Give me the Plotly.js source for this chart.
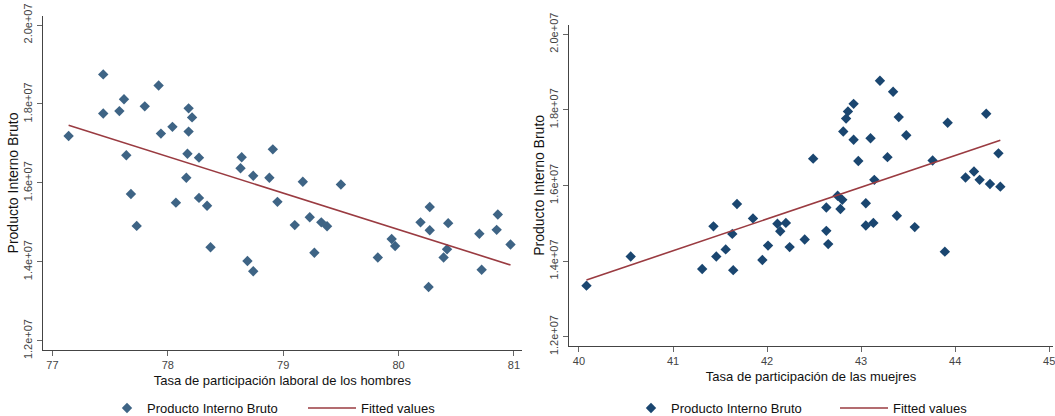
<!DOCTYPE html>
<html>
<head>
<meta charset="utf-8">
<script src="https://cdn.plot.ly/plotly-3.0.1.min.js"></script>
<style>html,body{margin:0;padding:0;background:#fff;}#chart{width:1055px;height:416px;}</style>
</head>
<body>
<div id="chart"></div>
<script>
// Left panel: men's labour participation rate vs GDP
const menRate = [77.14,77.44,77.44,77.62,77.58,77.80,77.92,77.94,78.04,78.18,78.21,78.18,78.17,78.27,77.64,77.68,77.73,78.16,78.07,78.27,78.34,78.37,78.64,78.63,78.74,78.91,78.88,78.95,78.69,78.74,79.17,79.10,79.23,79.27,79.33,79.38,79.50,79.82,79.94,79.97,80.19,80.27,80.27,80.43,80.26,80.42,80.39,80.70,80.72,80.86,80.85,80.97];
const menGDP = [1.719e7,1.875e7,1.776e7,1.812e7,1.782e7,1.794e7,1.847e7,1.725e7,1.742e7,1.789e7,1.766e7,1.730e7,1.674e7,1.664e7,1.670e7,1.572e7,1.491e7,1.613e7,1.550e7,1.562e7,1.542e7,1.437e7,1.665e7,1.637e7,1.618e7,1.685e7,1.613e7,1.552e7,1.402e7,1.376e7,1.603e7,1.493e7,1.513e7,1.423e7,1.500e7,1.490e7,1.596e7,1.411e7,1.458e7,1.440e7,1.500e7,1.539e7,1.480e7,1.498e7,1.336e7,1.432e7,1.411e7,1.471e7,1.380e7,1.520e7,1.481e7,1.444e7];
const menFitX = [77.14, 80.97];
const menFitY = [1.746e7, 1.392e7];

// Right panel: women's participation rate vs GDP
const womenRate = [40.08,40.55,41.31,41.46,41.56,41.43,41.63,41.64,41.68,41.85,41.95,42.01,42.11,42.14,42.20,42.24,42.40,42.49,43.20,43.34,42.92,42.86,42.84,43.40,42.81,42.92,43.10,43.48,43.92,44.33,42.97,43.28,43.76,44.46,43.14,44.11,44.20,44.26,44.37,44.48,42.75,42.80,42.63,42.78,43.05,43.05,43.13,43.38,43.57,42.63,42.65,43.89];
const womenGDP = [1.335e7,1.412e7,1.379e7,1.412e7,1.431e7,1.492e7,1.472e7,1.376e7,1.551e7,1.513e7,1.403e7,1.441e7,1.499e7,1.479e7,1.501e7,1.437e7,1.457e7,1.671e7,1.877e7,1.848e7,1.816e7,1.796e7,1.777e7,1.781e7,1.743e7,1.721e7,1.725e7,1.733e7,1.766e7,1.790e7,1.665e7,1.675e7,1.666e7,1.685e7,1.615e7,1.621e7,1.637e7,1.615e7,1.604e7,1.597e7,1.573e7,1.562e7,1.542e7,1.538e7,1.553e7,1.494e7,1.501e7,1.520e7,1.490e7,1.480e7,1.445e7,1.425e7];
const womenFitX = [40.08, 44.48];
const womenFitY = [1.350e7, 1.720e7];

const yTickVals = [1.2e7,1.4e7,1.6e7,1.8e7,2.0e7];
const yTickText = ['1.2e+07','1.4e+07','1.6e+07','1.8e+07','2.0e+07'];
const menTicks = [77,78,79,80,81];
const womenTicks = [40,41,42,43,44,45];

const FONT = 'Liberation Sans, Arial, Helvetica, sans-serif';
const W = 1055, H = 416;
const mkLeft = '#3e6485', mkRight = '#1a4670', lineCol = '#9a3b41';

const traces = [
  {x: menRate, y: menGDP, type:'scatter', mode:'markers', name:'Producto Interno Bruto',
   marker:{symbol:'diamond', size:8, color:mkLeft}, xaxis:'x', yaxis:'y', legend:'legend'},
  {x: menFitX, y: menFitY, type:'scatter', mode:'lines', name:'Fitted values',
   line:{color:lineCol, width:1.6}, xaxis:'x', yaxis:'y', legend:'legend2'},
  {x: womenRate, y: womenGDP, type:'scatter', mode:'markers', name:'Producto Interno Bruto',
   marker:{symbol:'diamond', size:8, color:mkRight}, xaxis:'x2', yaxis:'y2', legend:'legend3'},
  {x: womenFitX, y: womenFitY, type:'scatter', mode:'lines', name:'Fitted values',
   line:{color:lineCol, width:1.6}, xaxis:'x2', yaxis:'y2', legend:'legend4'}
];

function xax(dom, range, ticks, title, anchor){
  return {domain:dom, range:range, anchor:anchor, tickvals:ticks, ticktext:ticks.map(String),
    showline:true, linecolor:'#444', linewidth:1.2, ticks:'outside', ticklen:5, tickcolor:'#666',
    showgrid:false, zeroline:false, tickfont:{size:11, color:'#444', family:FONT}, ticklabeloverflow:'allow',
    title:{text:title, font:{size:13, color:'#111', family:FONT}, standoff:5}, automargin:false, fixedrange:true};
}
function yax(dom, range, anchor){
  return {domain:dom, range:range, anchor:anchor, tickvals:yTickVals, ticktext:yTickText, tickangle:-90,
    showline:true, linecolor:'#444', linewidth:1.2, ticks:'outside', ticklen:5, tickcolor:'#666',
    showgrid:false, zeroline:false, tickfont:{size:11, color:'#444', family:FONT}, ticklabeloverflow:'allow',
    title:{text:'Producto Interno Bruto', font:{size:14, color:'#111', family:FONT}, standoff:0}, automargin:false, fixedrange:true};
}
function leg(xpx, iw){
  return {orientation:'h', x:xpx/W, xanchor:'left', y:-7/H, yanchor:'bottom', itemwidth:iw,
    font:{size:13, color:'#111', family:FONT}, bgcolor:'rgba(0,0,0,0)'};
}

const layout = {
  width:W, height:H, margin:{l:0,r:0,t:0,b:0, autoexpand:false}, paper_bgcolor:'#fff', plot_bgcolor:'#fff',
  font:{family:FONT, color:'#111'},
  xaxis: xax([43/W, 521.7/W], [76.918, 81.067], menTicks, 'Tasa de participación laboral de los hombres', 'y'),
  yaxis: yax([1-350/H, 1-16/H], [1.1765e7, 2.023e7], 'x'),
  xaxis2: xax([569/W, 1053/W], [39.894, 45.04], womenTicks, 'Tasa de participación de las muejres', 'y2'),
  yaxis2: yax([1-345.7/H, 1-25/H], [1.1762e7, 2.0246e7], 'x2'),
  legend: leg(107, 30),
  legend2: leg(303, 48),
  legend3: leg(631, 30),
  legend4: leg(835, 48),
  showlegend:true
};

Plotly.newPlot('chart', traces, layout, {staticPlot:true, displayModeBar:false});
</script>
</body>
</html>
